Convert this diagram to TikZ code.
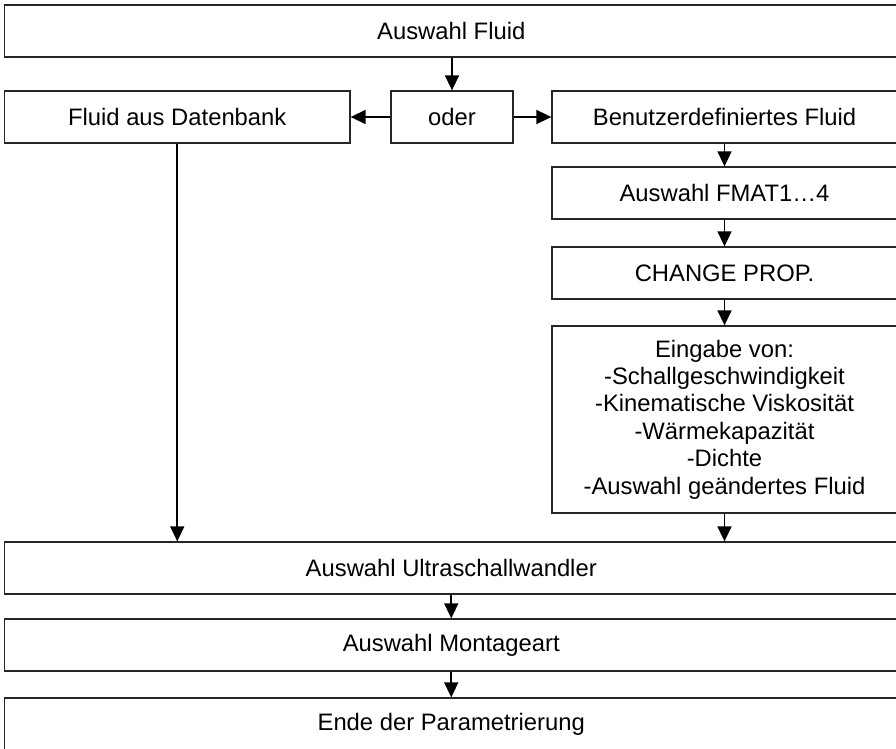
\documentclass[tikz,border=0pt]{standalone}
\usepackage{fontspec}
\setmainfont{Liberation Sans}
\usetikzlibrary{arrows.meta}
\begin{document}
\begin{tikzpicture}[x=1pt,y=-1pt,
  box/.style={draw=black!85, line width=1.3pt, inner sep=0pt, align=center,
    font=\fontsize{23.8}{27.4}\selectfont},
  arr/.style={line width=1.6pt, -{Triangle[length=15pt,width=14pt]}}]
\useasboundingbox (0,0) rectangle (896,748);
\clip (0,0) rectangle (896,748);
\node[box, minimum width=893.5pt, minimum height=52pt] (top) at (451.25,31) {Auswahl Fluid};
\node[box, minimum width=345.5pt, minimum height=52pt] (db) at (177.25,117) {Fluid aus Datenbank};
\node[box, minimum width=122pt, minimum height=52pt] (oder) at (452,117) {oder};
\node[box, minimum width=345pt, minimum height=52pt] (ben) at (724.5,117) {Benutzerdefiniertes Fluid};
\node[box, minimum width=345pt, minimum height=52pt] (fmat) at (724.5,193) {Auswahl FMAT1…4};
\node[box, minimum width=345pt, minimum height=52pt] (chg) at (724.5,273) {CHANGE PROP.};
\node[box, minimum width=345pt, minimum height=187pt] (big) at (724.5,419.5) {Eingabe von:\\-Schallgeschwindigkeit\\-Kinematische Viskosität\\-Wärmekapazität\\-Dichte\\-Auswahl geändertes Fluid};
\node[box, minimum width=893.5pt, minimum height=52pt] (ultra) at (451.25,568) {Auswahl Ultraschallwandler};
\node[box, minimum width=893.5pt, minimum height=52pt] (monta) at (451.25,645) {Auswahl Montageart};
\node[box, minimum width=893.5pt, minimum height=52pt] (ende) at (451.25,724) {Ende der Parametrierung};
\draw[arr] (top.south -| oder.north) -- (oder.north);
\draw[arr] (oder.west) -- (db.east);
\draw[arr] (oder.east) -- (ben.west);
\draw[arr] (ben.south) -- (fmat.north);
\draw[arr] (fmat.south) -- (chg.north);
\draw[arr] (chg.south) -- (big.north);
\draw[arr] (big.south) -- (big.south |- ultra.north);
\draw[arr] (db.south) -- (db.south |- ultra.north);
\draw[arr] (ultra.south) -- (monta.north);
\draw[arr] (monta.south) -- (ende.north);
\end{tikzpicture}
\end{document}
